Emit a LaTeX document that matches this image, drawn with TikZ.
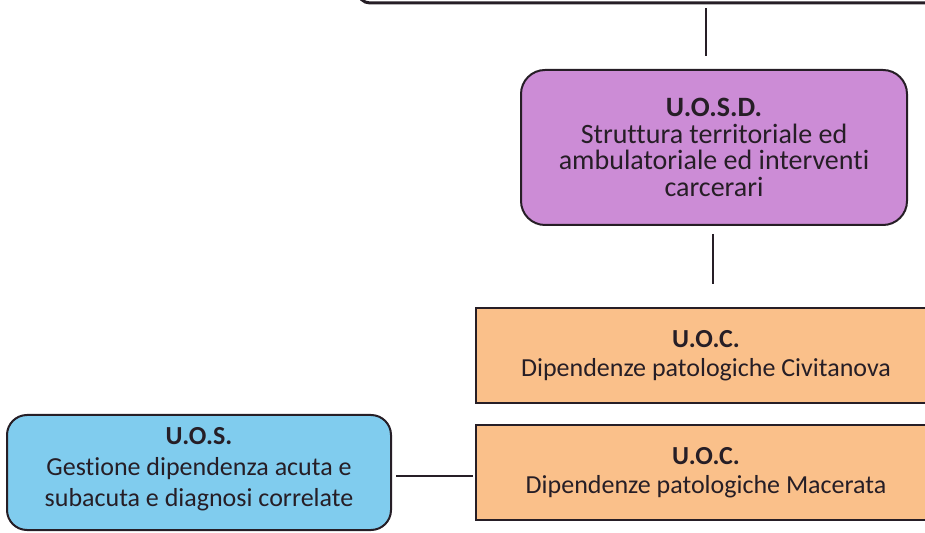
\documentclass[tikz,border=0pt]{standalone}
\usepackage{fontspec}
\setmainfont{Carlito}[Ligatures=NoCommon]
\usepackage{tikz}
\usetikzlibrary{calc}

\definecolor{osdviolet}{RGB}{204,140,214}
\definecolor{uocorange}{RGB}{250,192,138}
\definecolor{uosblue}{RGB}{128,204,238}
\definecolor{inkdark}{RGB}{38,30,38}

\begin{document}
\begin{tikzpicture}[x=0.5pt, y=-0.5pt,
    unit/.style = {draw=inkdark, line width=1pt, align=center, text=inkdark,
                   font=\fontsize{13}{14.5}\selectfont, inner sep=0pt},
    link/.style = {draw=inkdark, line width=1pt}]
    \useasboundingbox (0,0) rectangle (925,533);
    \clip (0,0) rectangle (925,533);

    % boxes
    \node[unit, line width=1.5pt, rounded corners=6pt, minimum width=342pt, minimum height=43pt] (dir) at (700,-40) {};
    \node[unit, fill=osdviolet, rounded corners=12pt, minimum width=193pt, minimum height=77.5pt,
          font=\fontsize{14}{13.4}\selectfont] (uosd) at (714,147.5)
          {\textbf{U.O.S.D.}\\Struttura territoriale ed\\ambulatoriale ed interventi\\carcerari};
    \node[unit, fill=uocorange, minimum width=230pt, minimum height=47.5pt] (civ) at (706,355.5)
          {\textbf{U.O.C.}\\Dipendenze patologiche Civitanova};
    \node[unit, fill=uocorange, minimum width=230pt, minimum height=47.5pt] (mac) at (706,472.5)
          {\textbf{U.O.C.}\\Dipendenze patologiche Macerata};
    \node[unit, fill=uosblue, rounded corners=10pt, minimum width=192pt, minimum height=57.5pt] (uos) at (199,472.5) {};
    \node[align=center, text=inkdark, font=\fontsize{13}{15.5}\selectfont, inner sep=0pt] (uostext) at ([yshift=1.5pt]uos.center)
          {\textbf{U.O.S.}\\Gestione dipendenza acuta e\\subacuta e diagnosi correlate};

    % connectors
    \coordinate (c1) at (706,0);
    \coordinate (c2) at (713,0);
    \draw[link, shorten <=2pt, shorten >=6.5pt] (c1 |- dir.south) -- (c1 |- uosd.north);
    \draw[link, shorten <=4pt, shorten >=11.5pt] (c2 |- uosd.south) -- (c2 |- civ.north);
    \draw[link, shorten <=2pt, shorten >=1pt] ([yshift=-1.75pt]uos.east) -- ([yshift=-1.75pt]uos.east -| mac.west);
\end{tikzpicture}
\end{document}
